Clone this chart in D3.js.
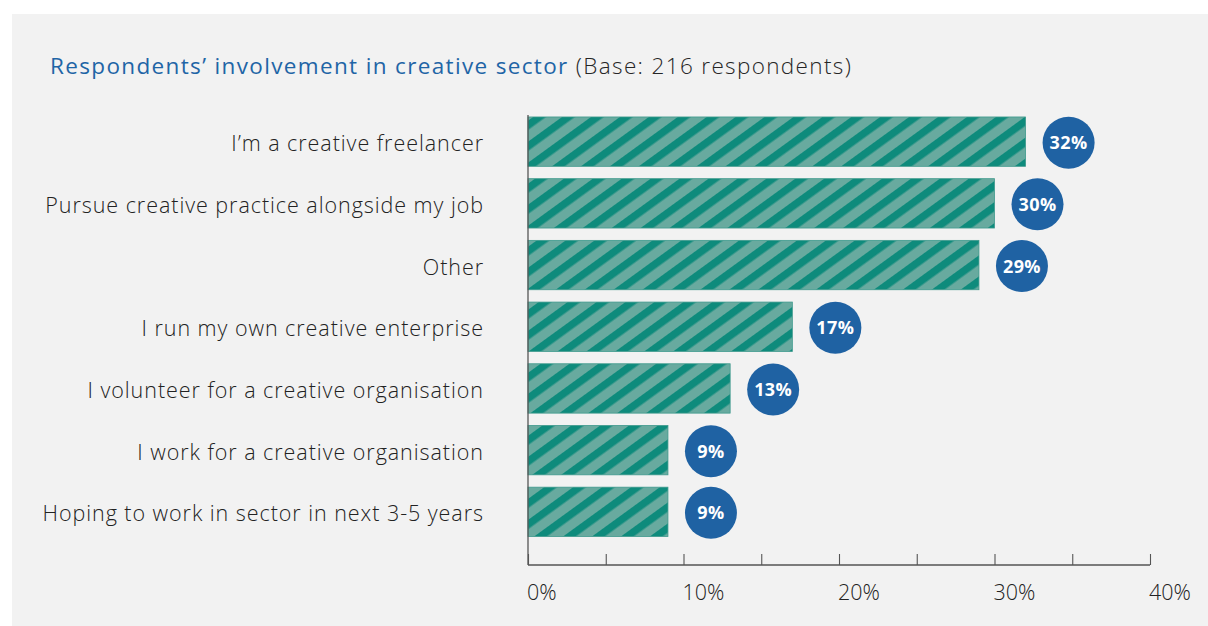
<!DOCTYPE html>
<html>
<head>
<meta charset="utf-8">
<script src="https://cdn.jsdelivr.net/npm/d3@7"></script>
<style>
  html, body { margin: 0; padding: 0; background: #ffffff; }
  svg { display: block; }
  text { font-family: "Open Sans", Lato, sans-serif; }
</style>
</head>
<body>
<svg id="chart" width="1208" height="626"></svg>
<script>
// Survey answers: share of respondents per type of involvement
const categories = [
  "I\u2019m a creative freelancer",
  "Pursue creative practice alongside my job",
  "Other",
  "I run my own creative enterprise",
  "I volunteer for a creative organisation",
  "I work for a creative organisation",
  "Hoping to work in sector in next 3-5 years"
];
const values = [32, 30, 29, 17, 13, 9, 9];
const tickValues = [0, 10, 20, 30, 40];
const minorTicks = [0, 5, 10, 15, 20, 25, 30, 35, 40];
const titleMain = "Respondents\u2019 involvement in creative sector";
const titleBase = "(Base: 216 respondents)";

const svg = d3.select("#chart");

// panel background
svg.append("rect")
  .attr("x", 12).attr("y", 14)
  .attr("width", 1196).attr("height", 612)
  .attr("fill", "#f2f2f2");

// diagonal stripe fill for the bars
const defs = svg.append("defs");
const pat = defs.append("pattern")
  .attr("id", "stripes")
  .attr("patternUnits", "userSpaceOnUse")
  .attr("width", 17).attr("height", 17)
  .attr("patternTransform", "rotate(54)");
pat.append("rect").attr("width", 17).attr("height", 17).attr("fill", "#68aa9f");
pat.append("rect").attr("width", 7.5).attr("height", 17).attr("fill", "#0e8b7c");

const x = d3.scaleLinear().domain([0, 40]).range([528, 1150]);
const y = d3.scaleBand().domain(categories).range([110.8, 542.7])
  .paddingInner(0.2).paddingOuter(0.1);

const data = categories.map((c, i) => ({ c, v: values[i] }));

// title
const title = svg.append("text")
  .attr("x", 50).attr("y", 74)
  .style("font-size", "22.5px")
  .style("letter-spacing", "1.35px");
title.append("tspan").attr("fill", "#1f65a6").style("font-weight", "400").text(titleMain);
title.append("tspan").attr("fill", "#262626").style("font-weight", "300").text(" " + titleBase);

// bars
svg.append("g").selectAll("rect")
  .data(data).join("rect")
  .attr("x", x(0))
  .attr("y", d => y(d.c))
  .attr("width", d => x(d.v) - x(0))
  .attr("height", y.bandwidth())
  .attr("fill", "url(#stripes)")
  .attr("stroke", "#3f9a8d")
  .attr("stroke-width", 0.8);

// category labels
svg.append("g").selectAll("text")
  .data(data).join("text")
  .attr("x", 484)
  .attr("y", d => y(d.c) + y.bandwidth() / 2 + 9.5)
  .attr("text-anchor", "end")
  .attr("fill", "#222")
  .style("font-size", "21.5px")
  .style("font-weight", "300")
  .style("letter-spacing", "0.95px")
  .text(d => d.c);

// value badges
const badges = svg.append("g").selectAll("g")
  .data(data).join("g")
  .attr("transform", d => `translate(${x(d.v) + 43},${y(d.c) + y.bandwidth() / 2 + 1})`);
badges.append("circle").attr("r", 26).attr("fill", "#1f62a3");
badges.append("text")
  .attr("text-anchor", "middle")
  .attr("dy", "0.36em")
  .attr("fill", "#ffffff")
  .style("font-size", "18px")
  .style("font-weight", "700")
  .style("letter-spacing", "0.4px")
  .text(d => d.v + "%");

// x axis
const axisY = 565;
const axis = svg.append("g").attr("transform", `translate(0,${axisY})`)
  .call(d3.axisBottom(x).tickValues(minorTicks).tickSize(-11).tickFormat(""));
axis.select(".domain").attr("d", `M${x(0)},0H${x(40)}`).attr("stroke", "#555").attr("stroke-width", 1.3);
axis.selectAll(".tick line").attr("stroke", "#555").attr("stroke-width", 1.1);

// vertical baseline
svg.append("line")
  .attr("x1", x(0)).attr("x2", x(0))
  .attr("y1", 115).attr("y2", axisY)
  .attr("stroke", "#555").attr("stroke-width", 1.3);

// tick labels
svg.append("g").selectAll("text")
  .data(tickValues).join("text")
  .attr("x", d => x(d) - 1)
  .attr("y", 600)
  .attr("fill", "#222")
  .style("font-size", "21.5px")
  .style("font-weight", "300")
  .text(d => d + "%");
</script>
</body>
</html>
